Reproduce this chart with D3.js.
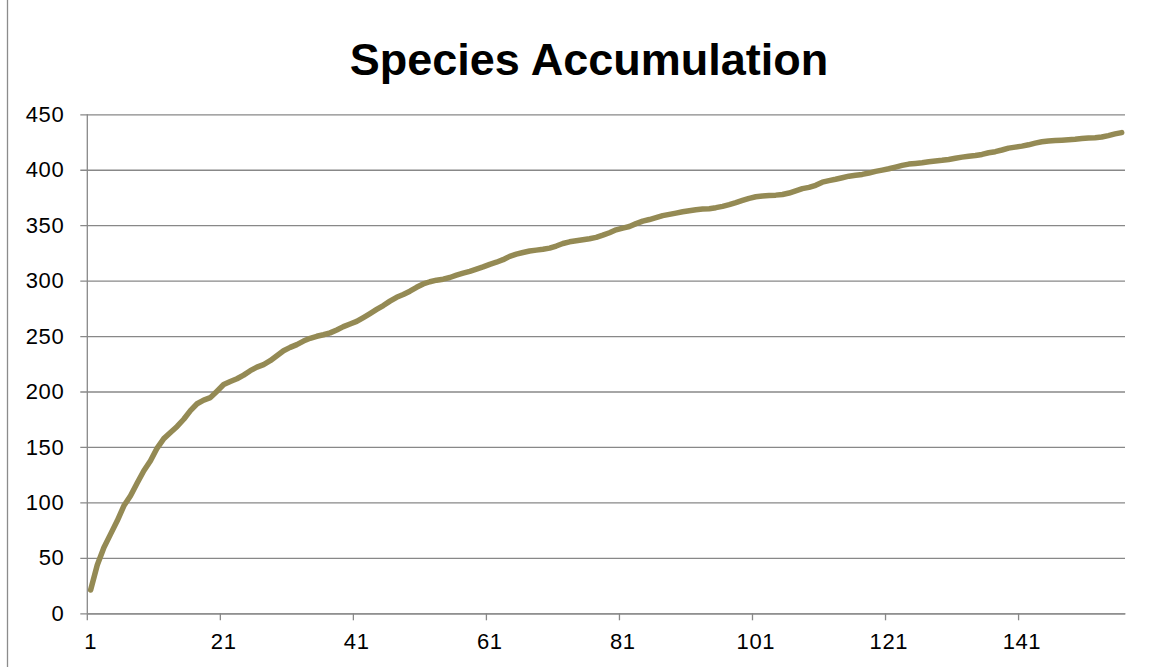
<!DOCTYPE html>
<html>
<head>
<meta charset="utf-8">
<script src="https://cdn.jsdelivr.net/npm/d3@7"></script>
<style>
  html, body { margin: 0; padding: 0; background: #fff; }
  svg { display: block; font-family: Arial, "Liberation Sans", sans-serif; }
</style>
</head>
<body>
<svg id="chart" width="1157" height="667"></svg>
<script>
const title = "Species Accumulation";
const speciesCounts = [
  21, 43.5, 59.4, 71.4, 83.4, 96.9, 106, 117.5, 128.5, 137.5,
  149, 157.5, 163, 168.5, 175, 182.8, 189, 192.3, 194.5, 200.3,
  206.3, 209, 211.5, 214.8, 218.8, 222, 224.3, 227.8, 232.3, 236.8,
  239.8, 242.3, 245.5, 248, 249.8, 251.2, 252.9, 255.5, 258.5, 260.9,
  263.2, 266.7, 270.3, 274, 277.5, 281.5, 285, 287.5, 290.5, 294,
  297, 299, 300.4, 301.3, 302.8, 304.9, 306.7, 308.3, 310.3, 312.4,
  314.7, 316.6, 318.9, 321.9, 323.9, 325.4, 326.7, 327.5, 328.3, 329.3,
  331.2, 333.5, 335, 335.9, 336.9, 337.8, 339, 341, 343.2, 345.8,
  347.4, 348.8, 351.4, 353.6, 355.1, 356.8, 358.6, 359.8, 360.9, 362.1,
  363, 363.9, 364.5, 364.9, 365.8, 367, 368.5, 370.3, 372.3, 374.2,
  375.6, 376.3, 376.8, 377.1, 377.7, 379, 381, 383, 384.1, 386,
  388.8, 390.2, 391.4, 392.8, 394.2, 395.1, 395.8, 397, 398.5, 399.7,
  400.9, 402.4, 403.9, 405.1, 405.7, 406.3, 407.2, 407.9, 408.5, 409.3,
  410.4, 411.4, 412.2, 412.8, 413.8, 415.3, 416.3, 417.8, 419.5, 420.4,
  421.3, 422.5, 424, 425.2, 426, 426.4, 426.7, 427.1, 427.5, 428.1,
  428.6, 428.9, 429.5, 430.8, 432.3, 433.5
];
const categories = speciesCounts.map((_, i) => String(i + 1));
const xTickLabels = ["1", "21", "41", "61", "81", "101", "121", "141"];
const yTickValues = [0, 50, 100, 150, 200, 250, 300, 350, 400, 450];

const svg = d3.select("#chart");
const plotLeft = 87.3, plotRight = 1125, plotTop = 114.3, plotBottom = 613.3;
const labelFont = "Arial, 'Liberation Sans', sans-serif";

// chart area border (only the left edge falls inside the picture)
svg.append("line")
  .attr("x1", 7.5).attr("x2", 7.5).attr("y1", 0).attr("y2", 667)
  .attr("stroke", "#8c8c8c").attr("stroke-width", 1.3);

const x = d3.scaleBand().domain(categories).range([plotLeft, plotRight]).paddingInner(0).paddingOuter(0);
const y = d3.scaleLinear().domain([0, 450]).range([plotBottom, plotTop]);

// gridlines + y ticks
const yAxis = d3.axisLeft(y).tickValues(yTickValues).tickSize(-(plotRight - plotLeft)).tickSizeOuter(0).tickPadding(23);
const gy = svg.append("g").attr("transform", `translate(${plotLeft},0)`).call(yAxis);
gy.select(".domain").remove();
gy.selectAll(".tick line").attr("x1", -7).attr("stroke", "#888").attr("stroke-width", 1.3);
gy.selectAll(".tick text").attr("font-size", 22).attr("letter-spacing", 0.6).attr("fill", "#000").attr("font-family", labelFont);

// y axis line
svg.append("line").attr("x1", plotLeft).attr("x2", plotLeft).attr("y1", plotTop).attr("y2", plotBottom)
  .attr("stroke", "#888").attr("stroke-width", 1.3);

// x axis
const xAxis = d3.axisBottom(x).tickValues(xTickLabels).tickSize(0).tickSizeOuter(0).tickPadding(20);
const gx = svg.append("g").attr("transform", `translate(0,${plotBottom})`).call(xAxis);
gx.select(".domain").attr("stroke", "#888").attr("stroke-width", 1.3);
gx.selectAll(".tick text").attr("font-size", 22).attr("letter-spacing", 0.6).attr("fill", "#000").attr("font-family", labelFont);
// tick marks at category boundaries
gx.selectAll(".tickmark").data(xTickLabels).enter().append("line")
  .attr("class", "tickmark")
  .attr("x1", d => x(d)).attr("x2", d => x(d)).attr("y1", 0).attr("y2", 7)
  .attr("stroke", "#888").attr("stroke-width", 1.3);

// line
const line = d3.line()
  .x((d, i) => x(categories[i]) + x.bandwidth() / 2)
  .y(d => y(d));
svg.append("path").datum(speciesCounts)
  .attr("d", line)
  .attr("fill", "none")
  .attr("stroke", "#948a54")
  .attr("stroke-width", 5.5)
  .attr("stroke-linejoin", "round")
  .attr("stroke-linecap", "round");

// title
svg.append("text").attr("x", 589).attr("y", 75).attr("text-anchor", "middle")
  .attr("font-size", 45).attr("font-weight", "bold").attr("fill", "#000")
  .text(title);
</script>
</body>
</html>
